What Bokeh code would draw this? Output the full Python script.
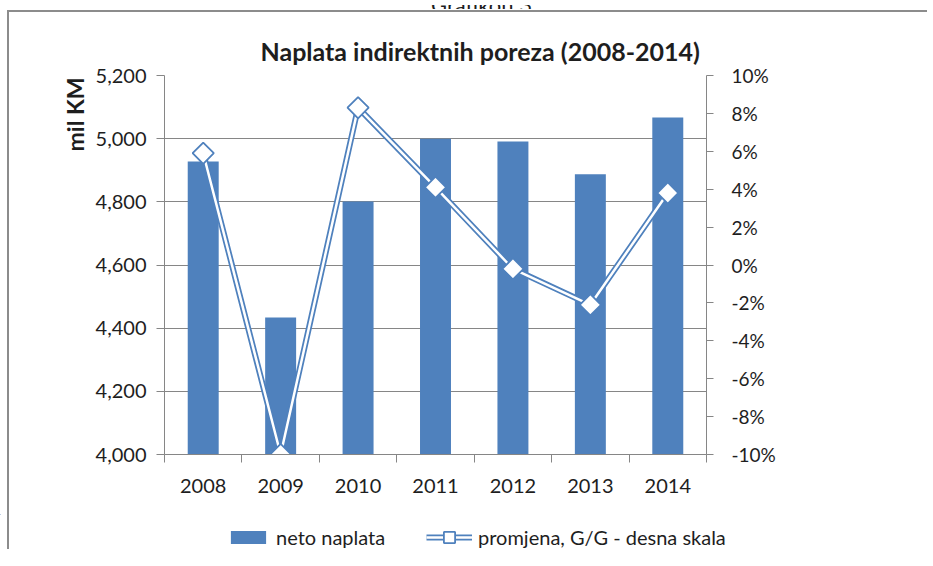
from bokeh.plotting import figure
from bokeh.models import (Range1d, LinearAxis, FixedTicker, NumeralTickFormatter,
                          PrintfTickFormatter, Legend, LegendItem, Title, Div,
                          ColumnDataSource, InlineStyleSheet)
from bokeh.layouts import column
from bokeh.embed import file_html
from bokeh.resources import INLINE
import math

years = ["2008", "2009", "2010", "2011", "2012", "2013", "2014"]
neto_naplata = [4928, 4434, 4801, 5000, 4991, 4887, 5067]
promjena = [5.9, -10.0, 8.3, 4.1, -0.2, -2.1, 3.8]
left_ticks = [4000, 4200, 4400, 4600, 4800, 5000, 5200]
right_ticks = [-10, -8, -6, -4, -2, 0, 2, 4, 6, 8, 10]

FONT = "Lato"
BLUE = "#4F81BD"
GRID = "#868686"
TXT = "#1e1e1e"

xs = [i + 0.5 for i in range(len(years))]
src = ColumnDataSource(dict(x=xs, neto=neto_naplata, pct=promjena, year=years))


def draw_series(fig, y_range_name="default", marker_size=15):
    b = fig.vbar(x="x", top="neto", bottom=4000, width=0.4, source=src,
                 fill_color=BLUE, line_color=None)
    a = fig.line(x="x", y="pct", source=src, y_range_name=y_range_name,
                 line_color=BLUE, line_width=6)
    w = fig.line(x="x", y="pct", source=src, y_range_name=y_range_name,
                 line_color="white", line_width=2.5)
    m = fig.scatter(x="x", y="pct", source=src, y_range_name=y_range_name, marker="square",
                    angle=math.pi / 4, size=marker_size, fill_color="white",
                    line_color=BLUE, line_width=1.8)
    return b, a, w, m


p = figure(width=917, height=500, output_backend="svg", toolbar_location=None,
           x_range=Range1d(0, len(years)), y_range=Range1d(4000, 5200),
           min_border_left=164, min_border_right=211, min_border_top=61,
           min_border_bottom=60)
p.outline_line_color = None
p.extra_y_ranges = {"pct": Range1d(-10, 10)}
draw_series(p, "pct")

# axes
xa = p.xaxis[0]
xa.ticker = FixedTicker(ticks=xs, minor_ticks=list(range(len(years) + 1)))
xa.major_label_overrides = {x: y for x, y in zip(xs, years)}
xa.major_tick_line_color = None
xa.major_tick_out = 0
xa.minor_tick_in = 0
xa.minor_tick_out = 8
xa.minor_tick_line_color = GRID
xa.axis_line_color = GRID
xa.major_label_standoff = 16
xa.major_label_text_font = FONT
xa.major_label_text_font_size = "20px"
xa.major_label_text_color = TXT

ya = p.yaxis[0]
ya.ticker = FixedTicker(ticks=left_ticks)
ya.formatter = NumeralTickFormatter(format="0,0")
ya.minor_tick_line_color = None
ya.major_tick_in = 0
ya.major_tick_out = 8
ya.major_tick_line_color = GRID
ya.axis_line_color = GRID
ya.major_label_standoff = 10
ya.major_label_text_font = FONT
ya.major_label_text_font_size = "20px"
ya.major_label_text_color = TXT

ra = LinearAxis(y_range_name="pct", ticker=FixedTicker(ticks=right_ticks),
                formatter=PrintfTickFormatter(format="%d%%"))
ra.minor_tick_line_color = None
ra.major_tick_in = 0
ra.major_tick_out = 7
ra.major_tick_line_color = GRID
ra.axis_line_color = GRID
ra.major_label_standoff = 18
ra.major_label_text_font = FONT
ra.major_label_text_font_size = "19px"
ra.major_label_text_color = TXT
p.add_layout(ra, "right")

p.xgrid.visible = False
p.ygrid.grid_line_color = GRID
p.ygrid.grid_line_width = 1

# titles
p.title.text = "Naplata indirektnih poreza (2008-2014)"
p.title.align = "left"
p.title.offset = 96
p.title.text_font = FONT
p.title.text_font_style = "bold"
p.title.text_font_size = "25px"
p.title.text_color = TXT
p.title.standoff = 20

p.add_layout(Title(text="mil KM", align="right", offset=2, text_font=FONT,
                   text_font_style="bold", text_font_size="23px", text_color=TXT,
                   standoff=7), "left")

# legend strip (proxy renderers use the same data, kept far outside the visible ranges)
leg = figure(width=917, height=35, output_backend="svg", toolbar_location=None,
             x_range=Range1d(100, 101), y_range=Range1d(100, 101),
             x_axis_type=None, y_axis_type=None, min_border=0)
if "frame_align" in leg.properties():
    leg.frame_align = False
    p.frame_align = False
leg.outline_line_color = None
leg.xgrid.visible = False
leg.ygrid.visible = False
lb, ll1, ll2, lm = draw_series(leg, "default", marker_size=13)

common = dict(orientation="horizontal", padding=0, margin=0, label_standoff=6,
              label_text_font=FONT, label_text_font_size="20px", label_text_color=TXT,
              background_fill_alpha=0, border_line_color=None)
legend1 = Legend(items=[LegendItem(label="neto naplata", renderers=[lb])],
                 location=(226, 0), glyph_width=44, glyph_height=16, **common)
legend2 = Legend(items=[LegendItem(label="promjena, G/G - desna skala",
                                   renderers=[ll1, ll2, lm])],
                 location=(426, -2), glyph_width=46, glyph_height=28, **common)
leg.add_layout(legend1, "center")
leg.add_layout(legend2, "center")

top = Div(text="Grafikon 3", width=917, height=4,
          styles={"overflow": "hidden", "font-family": "Lato", "font-size": "22px",
                  "line-height": "0px", "color": TXT, "text-align": "center",
                  "padding-left": "36px", "box-sizing": "border-box",
                  "height": "4px", "min-height": "0px"})

layout = column(top, p, leg, spacing=0)
layout.stylesheets = [InlineStyleSheet(css="""
:host { position: relative; overflow: hidden; }
:host::after { content: ""; position: absolute; left: 7px; top: 10px; width: 3000px; height: 3000px;
  border-left: 2.5px solid #8c8c8c; border-top: 2.5px solid #8c8c8c; pointer-events: none; }
""")]

open("out.html", "w").write(file_html(layout, INLINE))
